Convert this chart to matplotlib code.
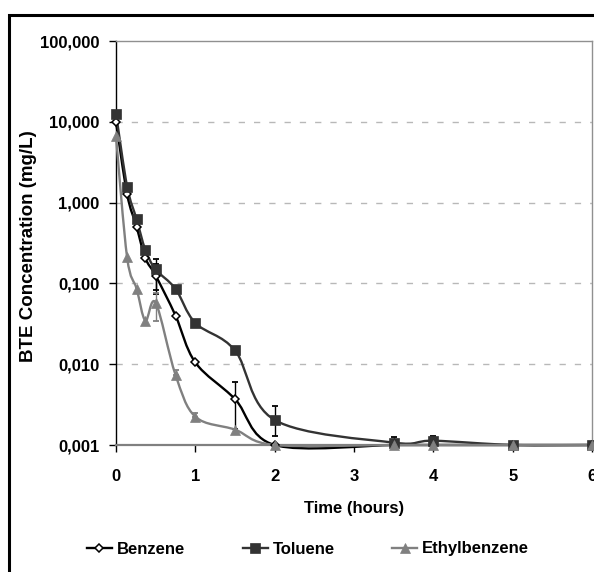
import numpy as np
import matplotlib
matplotlib.use('Agg')
import matplotlib.pyplot as plt
from matplotlib.path import Path
from matplotlib.patches import PathPatch, Rectangle
from matplotlib.lines import Line2D

plt.rcParams['font.family'] = ['Liberation Sans', 'DejaVu Sans']
plt.rcParams['font.weight'] = 'bold'
plt.rcParams['font.size'] = 12

# 数据
time_h = [0, 0.14, 0.26, 0.37, 0.5, 0.75, 1, 1.5, 2, 3.5, 4, 5, 6]
benzene = [10.0, 1.27, 0.50, 0.205, 0.125, 0.040, 0.0105, 0.0037, 0.001, 0.001, 0.001, 0.001, 0.001]
toluene = [12.6, 1.58, 0.62, 0.26, 0.149, 0.0857, 0.0324, 0.0148, 0.00204, 0.00107, 0.00113, 0.001, 0.001]
ethylbenzene = [6.6, 0.21, 0.0857, 0.0347, 0.0575, 0.0074, 0.00224, 0.00155, 0.001, 0.001, 0.001, 0.001, 0.001]

# 误差棒: 时间, 下限, 上限
benzene_err_t = [0.5, 1.5]
benzene_err_lo = [0.074, 0.0016]
benzene_err_hi = [0.175, 0.006]
toluene_err_t = [0.5, 2, 3.5, 4]
toluene_err_lo = [0.084, 0.0013, 0.00107, 0.00113]
toluene_err_hi = [0.20, 0.003, 0.00125, 0.0013]
ethyl_err_t = [0.5, 0.75, 1]
ethyl_err_lo = [0.034, 0.0074, 0.00224]
ethyl_err_hi = [0.075, 0.0085, 0.0025]

y_ticks = [0.001, 0.01, 0.1, 1, 10, 100]
y_labels = ['0,001', '0,010', '0,100', '1,000', '10,000', '100,000']
x_ticks = [0, 1, 2, 3, 4, 5, 6]

W, H = 594, 572


def smooth_path(x, y):
    # 类似Excel的平滑线: 在log空间做Catmull-Rom贝塞尔
    px = np.asarray(x, float)
    py = np.log10(np.asarray(y, float))
    n = len(px)
    verts = [(px[0], py[0])]
    codes = [Path.MOVETO]
    for i in range(n - 1):
        i0 = max(i - 1, 0)
        i3 = min(i + 2, n - 1)
        c1 = (px[i] + (px[i + 1] - px[i0]) / 6, py[i] + (py[i + 1] - py[i0]) / 6)
        c2 = (px[i + 1] - (px[i3] - px[i]) / 6, py[i + 1] - (py[i3] - py[i]) / 6)
        verts += [c1, c2, (px[i + 1], py[i + 1])]
        codes += [Path.CURVE4] * 3
    verts = np.array(verts)
    verts[:, 1] = 10 ** verts[:, 1]
    return Path(verts, codes)


def draw_err(ax, vals, err_t, lo, hi, color):
    centers = np.array([vals[time_h.index(t)] for t in err_t])
    yerr = [centers - np.array(lo), np.array(hi) - centers]
    ax.errorbar(err_t, centers, yerr=yerr, fmt='none', ecolor=color,
                elinewidth=1, capsize=2.3, capthick=1.3, zorder=3, clip_on=False)


fig = plt.figure(figsize=(W / 100, H / 100), dpi=100)
ax = fig.add_axes([116 / W, 1 - 445 / H, (592 - 116) / W, (445 - 41) / H])

ax.set_yscale('log')
ax.set_xlim(0, 6)
ax.set_ylim(0.001, 100)

# 网格线
for yv in y_ticks[1:-1]:
    ax.axhline(yv, color='#b8b8b8', lw=1, dashes=(4.5, 6.5), zorder=1)

series = [
    (benzene, 'black', dict(marker='D', ms=4.5, mfc='white', mec='black', mew=1.1), 'Benzene'),
    (toluene, '#333333', dict(marker='s', ms=6.6, mfc='#333333', mec='#333333', mew=0.5), 'Toluene'),
    (ethylbenzene, '#808080', dict(marker='^', ms=7, mfc='#808080', mec='#808080', mew=0.5), 'Ethylbenzene'),
]

draw_err(ax, benzene, benzene_err_t, benzene_err_lo, benzene_err_hi, 'black')
draw_err(ax, toluene, toluene_err_t, toluene_err_lo, toluene_err_hi, 'black')
draw_err(ax, ethylbenzene, ethyl_err_t, ethyl_err_lo, ethyl_err_hi, '#808080')

handles = []
for k, (vals, col, mk, name) in enumerate(series):
    patch = PathPatch(smooth_path(time_h, vals), fill=False, edgecolor=col, lw=1.7,
                      zorder=4 + k, clip_on=False)
    ax.add_patch(patch)
    ax.plot(time_h, vals, linestyle='none', zorder=7 + k, clip_on=False, **mk)
    handles.append(Line2D([], [], color=col, lw=1.7, label=name, **mk))

# 坐标轴样式
ax.spines['left'].set_color('black')
ax.spines['left'].set_linewidth(1)
ax.spines['bottom'].set_color('#808080')
ax.spines['bottom'].set_linewidth(1.6)
for s in ['top', 'right']:
    ax.spines[s].set_color('#909090')
    ax.spines[s].set_linewidth(1)

ax.set_yticks(y_ticks)
ax.set_yticklabels(y_labels)
ax.yaxis.set_minor_locator(matplotlib.ticker.NullLocator())
ax.set_xticks(x_ticks)
ax.set_xticklabels([str(v) for v in x_ticks])
ax.tick_params(axis='y', direction='out', length=5, width=1, pad=7, labelsize=12)
ax.tick_params(axis='x', direction='out', length=5, width=1, pad=12, labelsize=12)

fig.text(354 / W, 1 - 508 / H, 'Time (hours)', ha='center', va='center', fontsize=12, fontweight='bold')
fig.text(29 / W, 1 - 246 / H, 'BTE Concentration (mg/L)', ha='center', va='center',
         rotation=90, fontsize=13.5, fontweight='bold')

fig.legend(handles=handles, loc='center', bbox_to_anchor=(308 / W, 1 - 549 / H), ncol=3,
           frameon=False, handlelength=1.5, handletextpad=0.3, columnspacing=3.45, fontsize=12)

# 外框
fig.patches.append(Rectangle((9 / W, -0.1), 1.2, 1 - 14.7 / H + 0.1, transform=fig.transFigure,
                             fill=False, edgecolor='black', lw=2.2))

plt.savefig('out.png', dpi=100)
